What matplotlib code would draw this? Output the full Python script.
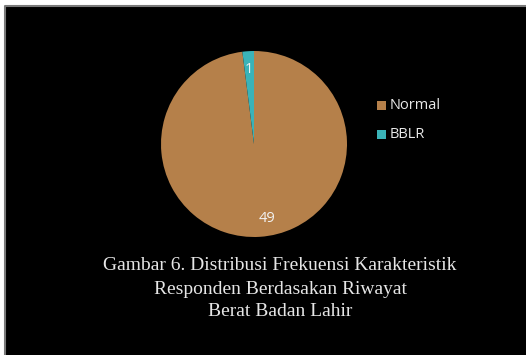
import matplotlib
matplotlib.use("Agg")
import matplotlib.pyplot as plt
from matplotlib.patches import Rectangle
from matplotlib.lines import Line2D
import numpy as np

categories = ["Normal", "BBLR"]
values = [49, 1]
colors = ["#B5804A", "#3AB3B8"]
caption = ["Gambar 6. Distribusi Frekuensi Karakteristik",
           "Responden Berdasakan Riwayat",
           "Berat Badan Lahir"]

W, H = 526, 355
fig = plt.figure(figsize=(W / 100, H / 100), dpi=100)
fig.patch.set_facecolor("white")

# black slide background with gray border on top and left only
fig.patches.append(Rectangle((4.5 / W, 0), 1, (H - 5.5) / H,
                             transform=fig.transFigure, facecolor="black",
                             edgecolor="none", zorder=0))
fig.lines.append(Line2D([4.5 / W, 4.5 / W, 1], [0, (H - 5.5) / H, (H - 5.5) / H],
                        transform=fig.transFigure, color="#7a7a7a", lw=1.5, zorder=1))

# pie axes: center (254,144), radius ~93
r = 93
cx, cy = 254, 144
ax = fig.add_axes([(cx - r) / W, (H - cy - r) / H, 2 * r / W, 2 * r / H])
ax.set_zorder(2)
ax.set_facecolor("none")

wedges, texts = ax.pie(values, colors=colors, startangle=90, counterclock=False,
                       wedgeprops=dict(linewidth=0))
ax.set_aspect("equal")
ax.set_xlim(-1, 1)
ax.set_ylim(-1, 1)
for w, v in zip(wedges, values):
    mid = np.deg2rad((w.theta1 + w.theta2) / 2)
    d = 0.8
    ax.text(d * np.cos(mid) + (0.09 if v > 10 else 0), d * np.sin(mid), str(v),
            ha="center", va="center", color="#f2f2f2", fontsize=10.5,
            family="Open Sans")

# legend
lx, ly0, dy = 377, 105, 29
for i, (c, lab) in enumerate(zip(colors, categories)):
    y = ly0 + i * dy
    fig.patches.append(Rectangle((lx / W, (H - y - 4.5) / H), 9 / W, 9 / H,
                                 transform=fig.transFigure, facecolor=c,
                                 edgecolor="none", zorder=3))
    fig.text((lx + 13) / W, (H - y) / H, lab, color="#e8e8e8", fontsize=10.5,
             family="Open Sans", va="center", ha="left", zorder=3)

# caption
ys = [265, 289, 311]
for t, y in zip(caption, ys):
    fig.text(280 / W, (H - y) / H, t, color="#e6e6e6", fontsize=14,
             family="Liberation Serif", ha="center", va="center", zorder=3)

fig.savefig("out.png", dpi=100, facecolor=fig.get_facecolor())
